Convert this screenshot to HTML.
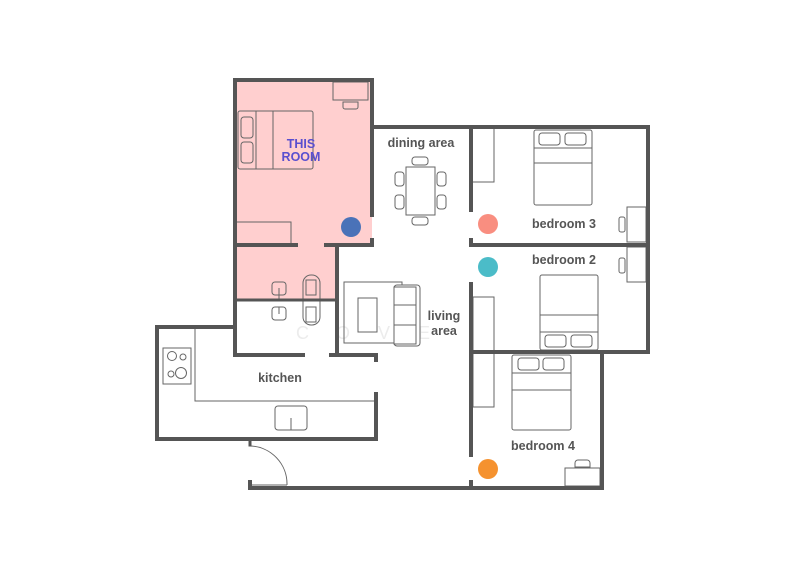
<!DOCTYPE html>
<html><head><meta charset="utf-8"><style>
html,body{margin:0;padding:0;background:#fff;}
svg{display:block;}
text{font-family:"Liberation Sans",sans-serif;font-weight:bold;}
</style></head><body>
<svg width="800" height="582" viewBox="0 0 800 582" xmlns="http://www.w3.org/2000/svg">
<polygon points="235,80 372,80 372,245 337,245 337,300 235,300" fill="#ffcfcf"/>
<g font-size="18" fill="#ececec" font-weight="normal" style="font-weight:normal">
  <text x="296" y="339" style="font-weight:normal">C</text>
  <text x="336" y="339" style="font-weight:normal">O</text>
  <text x="378" y="339" style="font-weight:normal">V</text>
  <text x="418" y="339" style="font-weight:normal">E</text>
</g>
<g fill="none" stroke="#666" stroke-width="1">
  <rect x="238" y="111" width="75" height="58" rx="2"/>
  <line x1="256" y1="111" x2="256" y2="169"/><line x1="273" y1="111" x2="273" y2="169"/>
  <rect x="241" y="117" width="12" height="21" rx="3"/><rect x="241" y="142" width="12" height="21" rx="3"/>
  <rect x="333" y="82" width="35" height="18"/>
  <path d="M343,102 h15 v5 a2,2 0 0 1 -2,2 h-11 a2,2 0 0 1 -2,-2 z"/>
  <polyline points="235,222 291,222 291,245"/>
  <rect x="272" y="282" width="14" height="13" rx="3"/><line x1="279" y1="288" x2="279" y2="300"/>
  <rect x="272" y="307" width="14" height="13" rx="3"/><line x1="279" y1="307" x2="279" y2="314"/>
  <rect x="303" y="275" width="17" height="50" rx="8"/>
  <rect x="306" y="280" width="10" height="15"/><rect x="306" y="307" width="10" height="15"/>
  <rect x="406" y="167" width="29" height="48"/>
  <rect x="412" y="157" width="16" height="8" rx="3"/><rect x="412" y="217" width="16" height="8" rx="3"/>
  <rect x="395" y="172" width="9" height="14" rx="3"/><rect x="395" y="195" width="9" height="14" rx="3"/>
  <rect x="437" y="172" width="9" height="14" rx="3"/><rect x="437" y="195" width="9" height="14" rx="3"/>
  <rect x="344" y="282" width="58" height="61"/>
  <rect x="394" y="285" width="26" height="61" rx="3" fill="#fff"/>
  <rect x="394" y="287" width="22" height="57"/>
  <line x1="394" y1="305" x2="416" y2="305"/><line x1="394" y1="325" x2="416" y2="325"/>
  <rect x="358" y="298" width="19" height="34"/>
  <polyline points="471,182 494,182 494,127"/>
  <rect x="534" y="130" width="58" height="75" rx="2"/>
  <rect x="539" y="133" width="21" height="12" rx="3"/><rect x="565" y="133" width="21" height="12" rx="3"/>
  <line x1="534" y1="148" x2="592" y2="148"/><line x1="534" y1="163" x2="592" y2="163"/>
  <rect x="627" y="207" width="19" height="35"/>
  <rect x="619" y="217" width="6" height="15" rx="2"/>
  <rect x="627" y="247" width="19" height="35"/>
  <rect x="619" y="258" width="6" height="15" rx="2"/>
  <rect x="540" y="275" width="58" height="75" rx="2"/>
  <line x1="540" y1="315" x2="598" y2="315"/><line x1="540" y1="332" x2="598" y2="332"/>
  <rect x="545" y="335" width="21" height="12" rx="3"/><rect x="571" y="335" width="21" height="12" rx="3"/>
  <rect x="473" y="297" width="21" height="110"/>
  <rect x="512" y="355" width="59" height="75" rx="2"/>
  <rect x="518" y="358" width="21" height="12" rx="3"/><rect x="543" y="358" width="21" height="12" rx="3"/>
  <line x1="512" y1="373" x2="571" y2="373"/><line x1="512" y1="390" x2="571" y2="390"/>
  <rect x="565" y="468" width="35" height="18"/>
  <path d="M575,467 v-4 a3,3 0 0 1 3,-3 h9 a3,3 0 0 1 3,3 v4 z"/>
  <polyline points="195,327 195,401 376,401"/>
  <rect x="163" y="348" width="28" height="36"/>
  <circle cx="172" cy="356" r="4.5"/><circle cx="183" cy="357" r="3"/>
  <circle cx="171" cy="374" r="3"/><circle cx="181" cy="373" r="5.5"/>
  <rect x="275" y="406" width="32" height="24" rx="3"/><line x1="291" y1="418" x2="291" y2="430"/>
  <path d="M250,446 A38,38 0 0 1 287,485"/>
  <line x1="250" y1="485" x2="287" y2="485"/>
</g>
<g fill="none" stroke="#555" stroke-width="4" stroke-linecap="square">
  <polyline points="372,215 372,80 235,80 235,355 303,355"/>
  <polyline points="372,240 372,245 326,245"/>
  <line x1="235" y1="245" x2="296" y2="245"/>
  <line x1="337" y1="245" x2="337" y2="355"/>
  <line x1="235" y1="300" x2="337" y2="300" stroke-width="3"/>
  <polyline points="331,355 376,355 376,360"/>
  <polyline points="372,127 648,127 648,352 471,352"/>
  <line x1="471" y1="127" x2="471" y2="210"/>
  <polyline points="471,240 471,245 648,245"/>
  <line x1="471" y1="284" x2="471" y2="455"/>
  <polyline points="602,352 602,488 250,488 250,482"/>
  <line x1="471" y1="482" x2="471" y2="488"/>
  <polyline points="235,327 157,327 157,439 376,439 376,394"/>
  <line x1="250" y1="439" x2="250" y2="445" stroke-width="3"/>
</g>
<circle cx="351" cy="227" r="10" fill="#4a72b8"/>
<circle cx="488" cy="224" r="10" fill="#f98e80"/>
<circle cx="488" cy="267" r="10" fill="#4bbcc8"/>
<circle cx="488" cy="469" r="10" fill="#f5922f"/>
<g font-size="12.5" fill="#555" text-anchor="middle">
  <text x="421" y="147">dining area</text>
  <text x="564" y="228">bedroom 3</text>
  <text x="564" y="264">bedroom 2</text>
  <text x="444" y="320">living</text>
  <text x="444" y="335">area</text>
  <text x="280" y="382">kitchen</text>
  <text x="543" y="450">bedroom 4</text>
</g>
<g font-size="12.5" fill="#5a4fcf" text-anchor="middle">
  <text x="301" y="148">THIS</text>
  <text x="301" y="161">ROOM</text>
</g>
</svg>
</body></html>
